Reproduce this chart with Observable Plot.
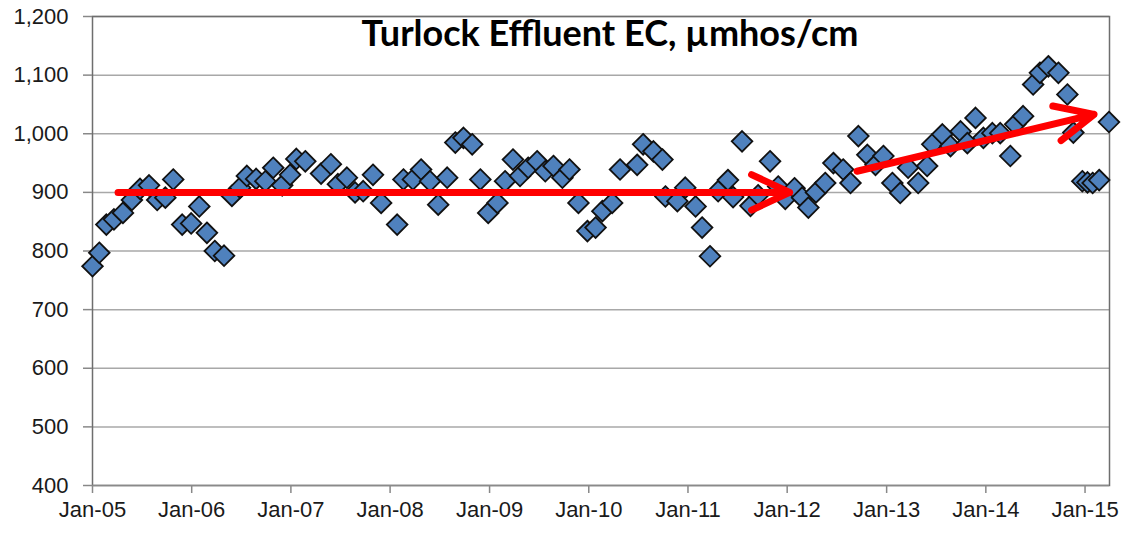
<!DOCTYPE html>
<html>
<head>
<meta charset="utf-8">
<script src="https://cdn.jsdelivr.net/npm/d3@7"></script>
<script src="https://cdn.jsdelivr.net/npm/@observablehq/plot@0.6"></script>
<style>
  html, body { margin: 0; padding: 0; background: #fff; }
  #chart { width: 1127px; height: 535px; }
</style>
</head>
<body>
<div id="chart"></div>
<script>
// ---- data: sample dates and EC values (µmhos/cm) ----
const sampleDates = [
  "2005-01-01","2005-01-26","2005-02-21","2005-03-21","2005-04-23","2005-05-26","2005-06-25","2005-07-28","2005-08-27","2005-09-26","2005-10-25","2005-11-27",
  "2005-12-30","2006-01-29","2006-02-26","2006-03-27","2006-04-30","2006-05-29","2006-06-28","2006-07-23","2006-08-26","2006-09-29","2006-10-28","2006-11-30",
  "2006-12-29","2007-01-21","2007-02-23","2007-04-22","2007-05-28","2007-06-23","2007-07-26","2007-08-25","2007-09-24","2007-10-30","2007-11-29",
  "2008-01-27","2008-02-19","2008-03-25","2008-04-24","2008-05-27","2008-06-26","2008-07-29","2008-08-28","2008-09-27","2008-10-29","2008-11-28","2008-12-27",
  "2009-01-30","2009-02-27","2009-03-28","2009-04-23","2009-05-23","2009-06-25","2009-07-25","2009-08-24","2009-09-26","2009-10-22","2009-11-24","2009-12-27",
  "2010-01-26","2010-02-20","2010-03-28","2010-04-26","2010-06-28","2010-07-20","2010-08-27","2010-09-29","2010-10-10","2010-11-23","2010-12-22",
  "2011-01-29","2011-02-22","2011-03-23","2011-04-22","2011-05-28","2011-06-16","2011-07-19","2011-08-19","2011-09-16","2011-10-30","2011-11-29","2011-12-25",
  "2012-01-28","2012-02-25","2012-03-19","2012-04-16","2012-05-20","2012-06-19","2012-07-25","2012-08-21","2012-09-19","2012-10-22","2012-11-21","2012-12-20",
  "2013-01-22","2013-02-20","2013-03-21","2013-04-27","2013-05-30","2013-06-18","2013-07-25","2013-08-24","2013-09-30","2013-10-25","2013-11-24","2013-12-23",
  "2014-01-25","2014-02-23","2014-04-01","2014-04-19","2014-05-18","2014-06-24","2014-07-19","2014-08-19","2014-09-25","2014-10-28","2014-11-19","2014-12-22",
  "2015-01-10","2015-01-29","2015-02-22","2015-03-30"
];
const ecValues = [
  774, 797, 845, 854, 865, 887, 906, 912, 887, 891, 922, 845,
  847, 876, 831, 800, 792, 894, 908, 928, 923, 919, 942, 912,
  930, 957, 953, 932, 948, 914, 925, 900, 902, 930, 882,
  845, 922, 922, 939, 919, 879, 925, 985, 993, 982, 922, 865,
  882, 919, 956, 928, 942, 953, 936, 945, 925, 939, 882, 834,
  840, 868, 882, 939, 947, 982, 970, 956, 893, 885, 908,
  876, 840, 791, 902, 921, 892, 987, 877, 895, 953, 910, 889,
  907, 891, 874, 900, 916, 950, 939, 916, 996, 964, 947, 962,
  916, 899, 942, 916, 945, 982, 999, 979, 1004, 984, 1027, 993,
  1001, 1001, 962, 1016, 1030, 1084, 1104, 1115, 1104, 1067, 1002, 919,
  917, 916, 921, 1020
];
const yTicks = [400, 500, 600, 700, 800, 900, 1000, 1100, 1200];
const xTickYears = ["2005","2006","2007","2008","2009","2010","2011","2012","2013","2014","2015"];
const xDomain = ["2005-01-01", "2015-04-01"];
// trend arrows (annotation)
const arrowStartDates = ["2005-04-05", "2012-09-14"];
const arrowStartValues = [900, 936];
const arrowEndDates = ["2012-01-10", "2015-02-03"];
const arrowEndValues = [900, 1033];
const titleText = "Turlock Effluent EC, µmhos/cm";

// ---- build tables ----
const toDate = s => new Date(s + "T00:00:00Z");
const data = sampleDates.map((d, i) => ({date: toDate(d), ec: ecValues[i]}));
const xTicks = xTickYears.map(y => toDate(y + "-01-01"));
const arrows = arrowStartDates.map((d, i) => ({
  x1: toDate(d), y1: arrowStartValues[i],
  x2: toDate(arrowEndDates[i]), y2: arrowEndValues[i]
}));

const chart = Plot.plot({
  width: 1127,
  height: 535,
  marginLeft: 92,
  marginRight: 18,
  marginTop: 16,
  marginBottom: 50,
  style: {fontFamily: "'Liberation Sans', Arial, sans-serif", fontSize: "22px", color: "#1a1a1a", background: "#fff"},
  x: {type: "utc", domain: xDomain.map(toDate)},
  y: {domain: [400, 1200]},
  marks: [
    Plot.ruleY(yTicks.slice(1), {stroke: "#a8a8a8", strokeWidth: 1.5}),
    Plot.frame({stroke: "#6e6e6e", strokeWidth: 1.5}),
    Plot.axisY({ticks: yTicks, tickFormat: d3.format(","), tickSize: 9, tickPadding: 15, label: null, stroke: "#888", strokeWidth: 1.5, fontSize: 22}),
    Plot.axisX({ticks: xTicks, tickFormat: d3.utcFormat("%b-%y"), tickSize: 8, tickPadding: 8, label: null, stroke: "#888", strokeWidth: 1.5, fontSize: 22}),
    Plot.ruleY([400], {stroke: "#8a8a8a", strokeWidth: 1.5}),
    Plot.dot(data, {x: "date", y: "ec", symbol: "diamond2", r: 9.3, fill: "#4f81bd", stroke: "#111", strokeWidth: 1.8}),
    Plot.arrow(arrows, {x1: "x1", y1: "y1", x2: "x2", y2: "y2", stroke: "#ff0000", strokeWidth: 7, headLength: 9, headAngle: 50, strokeLinecap: "round", strokeLinejoin: "round"}),
    Plot.text([titleText], {frameAnchor: "top", lineAnchor: "top", dx: 9, dy: 4, text: d => d, fontFamily: "Lato, 'Open Sans', sans-serif", fontWeight: "bold", fontSize: 36, fill: "#000"})
  ]
});
document.getElementById("chart").appendChild(chart);
</script>
</body>
</html>
